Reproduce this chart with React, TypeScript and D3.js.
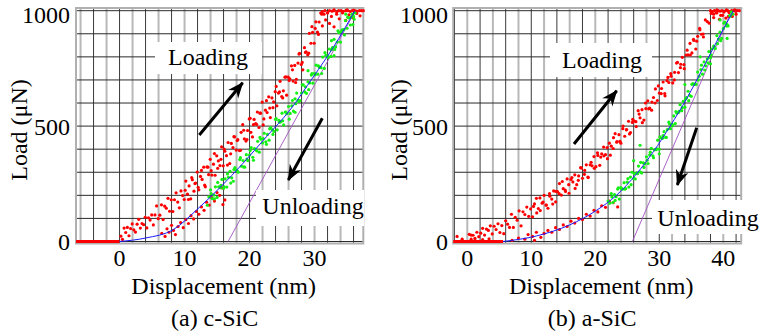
import { useEffect, useRef } from "react";
import * as d3 from "d3";

type Pt = [number, number];

// tick labels
const yTicks = [0, 500, 1000];
const cXTicks = [0, 10, 20, 30];
const aXTicks = [0, 10, 20, 30, 40];

// ---- c-SiC (displacement nm, load uN), stored as h,P,h,P...
const cLoad = [
  0.2, 23, 0.45, 9, 0.7, 58, 0.95, 39, 1.2, 61, 1.45, 25, 1.7, 56, 1.95, 76, 2.2, 50, 2.45, 41, 2.7, 75, 2.95, 96,
  3.2, 58, 3.45, 78, 3.7, 73, 3.95, 105, 4.2, 59, 4.45, 103, 4.7, 93, 4.95, 115, 5.2, 72, 5.45, 115, 5.7, 154,
  5.95, 99, 6.2, 114, 6.45, 159, 6.7, 95, 6.95, 153, 7.2, 144, 7.45, 187, 7.7, 131, 7.95, 181, 8.2, 130, 8.45, 181,
  8.7, 211, 8.95, 171, 9.2, 146, 9.45, 219, 9.7, 199, 9.95, 182, 10.2, 262, 10.45, 205, 10.7, 241, 10.95, 185,
  11.2, 268, 11.45, 218, 11.7, 253, 11.95, 301, 12.2, 224, 12.45, 282, 12.7, 269, 12.95, 322, 13.2, 237, 13.45, 323,
  13.7, 290, 13.95, 356, 14.2, 288, 14.45, 335, 14.7, 287, 14.95, 371, 15.2, 349, 15.45, 329, 15.7, 410, 15.95, 328,
  16.2, 391, 16.45, 372, 16.7, 429, 16.95, 338, 17.2, 425, 17.45, 407, 17.7, 453, 17.95, 396, 18.2, 441, 18.45, 394,
  18.7, 473, 18.95, 506, 19.2, 445, 19.45, 435, 19.7, 481, 19.95, 531, 20.2, 473, 20.45, 453, 20.7, 529, 20.95, 511,
  21.2, 561, 21.45, 494, 21.7, 556, 21.95, 604, 22.2, 531, 22.45, 569, 22.7, 559, 22.95, 627, 23.2, 537, 23.45, 622,
  23.7, 605, 23.95, 649, 24.2, 588, 24.45, 643, 24.7, 694, 24.95, 628, 25.2, 653, 25.45, 712, 25.7, 634, 25.95, 712,
  26.2, 705, 26.45, 761, 26.7, 695, 26.95, 763, 27.2, 703, 27.45, 773, 27.7, 815, 27.95, 767, 28.2, 744, 28.45, 840,
  28.7, 822, 28.95, 809, 29.2, 902, 29.45, 859, 29.7, 906, 29.95, 859, 30.2, 952, 30.45, 907, 30.7, 951, 30.95, 990,
  31.2, 934, 31.45, 985, 31.7, 960, 32.0, 990, 32.3, 945, 32.6, 975, 33.0, 930, 33.4, 985, 33.8, 965, 34.3, 990,
  34.8, 958, 35.3, 982, 35.9, 970, 36.5, 988, 37.0, 978,
  // second sweep
  10.1, 222, 10.6, 182, 11.1, 277, 11.6, 251, 12.1, 235, 12.6, 308, 13.1, 244, 13.6, 322, 14.1, 307, 14.6, 381,
  15.1, 317, 15.6, 356, 16.1, 400, 16.6, 331, 17.1, 380, 17.6, 454, 18.1, 438, 18.6, 395, 19.1, 482, 19.6, 442,
  20.1, 534, 20.6, 506, 21.1, 507, 21.6, 556, 22.1, 505, 22.6, 610, 23.1, 578, 23.6, 580, 24.1, 672, 24.6, 648,
  25.1, 622, 25.6, 713, 26.1, 698, 26.6, 744, 27.1, 689, 27.6, 812, 28.1, 776, 28.6, 819, 29.1, 816, 29.6, 931,
  30.1, 923, 30.6, 897, 31.1, 985,
];
const cUnloadLow = [
  6.5, 35, 7.0, 22, 7.3, 55, 7.6, 40, 8.0, 70, 8.3, 48, 8.6, 30, 9.0, 65, 9.4, 82, 9.8, 60, 10.2, 95, 10.6, 78,
  11.0, 112, 11.4, 98, 11.8, 130, 12.2, 118, 12.6, 150, 13.0, 135, 13.4, 170, 13.8, 158, 14.2, 190, 14.6, 175,
  15.0, 212, 15.4, 200, 15.8, 232, 16.2, 180, 15.9, 160,
];
const cUnload = [
  13.5, 157, 13.75, 193, 14.0, 224, 14.25, 186, 14.5, 201, 14.75, 237, 15.0, 191, 15.25, 237, 15.5, 233, 15.75, 269,
  16.0, 230, 16.25, 271, 16.5, 236, 16.75, 278, 17.0, 304, 17.25, 276, 17.5, 261, 17.75, 320, 18.0, 309, 18.25, 300,
  18.5, 355, 18.75, 326, 19.0, 351, 19.25, 322, 19.5, 376, 19.75, 350, 20.0, 375, 20.25, 407, 20.5, 365, 20.75, 403,
  21.0, 399, 21.25, 434, 21.5, 387, 21.75, 443, 22.0, 427, 22.25, 469, 22.5, 432, 22.75, 464, 23.0, 439, 23.25, 494,
  23.5, 485, 23.75, 477, 24.0, 529, 24.25, 484, 24.5, 525, 24.75, 518, 25.0, 556, 25.25, 505, 25.5, 561, 25.75, 554,
  26.0, 585, 26.25, 555, 26.5, 588, 26.75, 565, 27.0, 618, 27.25, 643, 27.5, 611, 27.75, 611, 28.0, 643, 28.25, 679,
  28.5, 648, 28.75, 642, 29.0, 692, 29.25, 687, 29.5, 721, 29.75, 686, 30.0, 729, 30.25, 764, 30.5, 725, 30.75, 754,
  31.0, 753, 31.25, 799, 31.5, 750, 31.75, 807, 32.0, 803, 32.25, 834, 32.5, 802, 32.75, 840, 33.0, 876, 33.25, 843,
  33.5, 864, 33.75, 905, 34.0, 864, 34.25, 917, 34.5, 918, 34.75, 957, 35.0, 924, 35.25, 969, 35.5, 938, 35.75, 985,
  36.0, 975, 36.25, 990, 34.8, 985, 33.0, 805, 29.0, 740, 27.0, 560, 35.9, 940, 32.6, 870,
  // second sweep
  14.1, 208, 14.6, 185, 15.1, 256, 15.6, 243, 16.1, 237, 16.6, 293, 17.1, 253, 17.6, 312, 18.1, 306, 18.6, 363,
  19.1, 323, 19.6, 357, 20.1, 394, 20.6, 352, 21.1, 393, 21.6, 451, 22.1, 446, 22.6, 421, 23.1, 488, 23.6, 464,
  24.1, 533, 24.6, 517, 25.1, 523, 25.6, 561, 26.1, 530, 26.6, 611, 27.1, 597, 27.6, 607, 28.1, 679, 28.6, 670,
  29.1, 658, 29.6, 727, 30.1, 722, 30.6, 761, 31.1, 728, 31.6, 818, 32.1, 797, 32.6, 831, 33.1, 832, 33.6, 913,
  34.1, 909, 34.6, 895, 35.1, 972, 35.6, 971, 36.1, 963,
];
const cHold = [
  31.2, 996, 31.6, 1000, 32.0, 992, 32.3, 1000, 32.7, 998, 33.0, 1000, 33.4, 994, 33.7, 1000, 34.1, 1000,
  34.4, 996, 34.8, 1000, 35.1, 1000, 35.5, 997, 35.8, 1000, 36.2, 1000, 36.5, 998, 36.9, 1000, 37.2, 1000,
  37.5, 1000, 33.0, 1004, 35.0, 1004, 36.0, 1003,
];
const cFlat: Pt[] = [[-6.7, 0], [0, 0]];
const cFit: Pt[] = [
  [0, 0], [4, 15], [8.3, 52], [11.9, 138], [15.5, 235], [19, 339], [22.6, 454], [26.2, 569], [29.8, 713],
  [32.9, 842], [36.2, 1000],
];
const cTangent: Pt[] = [[16.7, 0], [36.3, 1000]];

// ---- a-SiC
const aLoad = [
  0.3, 31, 0.6, 10, 0.9, 27, 1.2, 5, 1.5, 40, 1.8, 21, 2.1, 36, 2.4, 57, 2.7, 28, 3.0, 54, 3.3, 48, 3.6, 68,
  3.9, 33, 4.2, 66, 4.5, 52, 4.8, 77, 5.1, 39, 5.4, 69, 5.7, 34, 6.0, 90, 6.3, 75, 6.6, 61, 6.9, 118, 7.2, 61,
  7.5, 105, 7.8, 92, 8.1, 133, 8.4, 68, 8.7, 129, 9.0, 117, 9.3, 149, 9.6, 109, 9.9, 141, 10.2, 107, 10.5, 163,
  10.8, 187, 11.1, 143, 11.4, 134, 11.7, 166, 12.0, 200, 12.3, 158, 12.6, 144, 12.9, 196, 13.2, 184, 13.5, 219,
  13.8, 172, 14.1, 216, 14.4, 251, 14.7, 201, 15.0, 229, 15.3, 223, 15.6, 271, 15.9, 209, 16.2, 269, 16.5, 258,
  16.8, 289, 17.1, 246, 17.4, 284, 17.7, 320, 18.0, 274, 18.3, 291, 18.6, 332, 18.9, 277, 19.2, 332, 19.5, 328,
  19.8, 368, 20.1, 324, 20.4, 373, 20.7, 330, 21.0, 380, 21.3, 409, 21.6, 376, 21.9, 359, 22.2, 426, 22.5, 413,
  22.8, 403, 23.1, 467, 23.4, 433, 23.7, 463, 24.0, 426, 24.3, 489, 24.6, 456, 24.9, 485, 25.2, 521, 25.5, 472,
  25.8, 516, 26.1, 522, 26.4, 498, 26.7, 567, 27.0, 536, 27.3, 571, 27.6, 526, 27.9, 576, 28.2, 609, 28.5, 578,
  28.8, 569, 29.1, 624, 29.4, 661, 29.7, 611, 30.0, 643, 30.3, 641, 30.6, 691, 30.9, 631, 31.2, 697, 31.5, 689,
  31.8, 727, 32.1, 687, 32.4, 733, 32.7, 773, 33.0, 732, 33.3, 753, 33.6, 798, 33.9, 749, 34.2, 808, 34.5, 809,
  34.8, 858, 35.1, 817, 35.4, 871, 35.7, 834, 36.0, 889, 36.3, 924, 36.6, 898, 36.9, 886, 37.2, 960, 37.5, 953,
  37.8, 946, 38.1, 988, 38.5, 970, 39.0, 990, 39.4, 962, 39.9, 980, 40.4, 968, 40.9, 992, 41.4, 975, 42.0, 985,
  // second sweep
  10.35, 152, 10.85, 124, 11.35, 189, 11.85, 171, 12.35, 158, 12.85, 207, 13.35, 162, 13.85, 217, 14.35, 207,
  14.85, 260, 15.35, 217, 15.85, 246, 16.35, 277, 16.85, 230, 17.35, 265, 17.85, 318, 18.35, 308, 18.85, 279,
  19.35, 343, 19.85, 317, 20.35, 384, 20.85, 366, 21.35, 371, 21.85, 407, 22.35, 374, 22.85, 450, 23.35, 430,
  23.85, 434, 24.35, 500, 24.85, 484, 25.35, 466, 25.85, 529, 26.35, 519, 26.85, 552, 27.35, 515, 27.85, 600,
  28.35, 575, 28.85, 604, 29.35, 600, 29.85, 674, 30.35, 663, 30.85, 641, 31.35, 711, 31.85, 716, 32.35, 700,
  32.85, 776, 33.35, 768, 33.85, 766, 34.35, 829, 34.85, 808, 35.35, 876, 35.85, 868, 36.35, 917, 36.85, 899,
];
const aUnloadLow = [
  7.0, 5, 8.0, 15, 9.0, 10, 9.5, 30, 10.2, 22, 10.5, 5, 10.8, 40, 11.5, 18, 12.0, 35, 12.6, 48, 13.2, 40,
  13.8, 60, 14.4, 52, 15.0, 72, 15.6, 65, 16.2, 88, 16.8, 80, 17.4, 100, 18.0, 95, 18.6, 118, 19.2, 110,
  19.8, 135, 20.4, 128, 21.0, 155, 21.6, 148, 22.2, 175, 22.8, 168, 23.5, 150,
];
const aUnload = [
  22.0, 175, 22.25, 166, 22.5, 208, 22.75, 169, 23.0, 203, 23.25, 194, 23.5, 227, 23.75, 184, 24.0, 233, 24.25, 227,
  24.5, 255, 24.75, 229, 25.0, 257, 25.25, 236, 25.5, 279, 25.75, 300, 26.0, 272, 26.25, 271, 26.5, 297, 26.75, 327,
  27.0, 302, 27.25, 297, 27.5, 341, 27.75, 336, 28.0, 367, 28.25, 338, 28.5, 375, 28.75, 404, 29.0, 371, 29.25, 397,
  29.5, 398, 29.75, 439, 30.0, 400, 30.25, 449, 30.5, 447, 30.75, 476, 31.0, 451, 31.25, 485, 31.5, 517, 31.75, 489,
  32.0, 508, 32.25, 544, 32.5, 511, 32.75, 556, 33.0, 559, 33.25, 593, 33.5, 567, 33.75, 607, 34.0, 582, 34.25, 623,
  34.5, 651, 34.75, 633, 35.0, 629, 35.25, 684, 35.5, 681, 35.75, 681, 36.0, 734, 36.25, 716, 36.5, 745, 36.75, 725,
  37.0, 778, 37.25, 761, 37.5, 791, 37.75, 823, 38.0, 796, 38.25, 835, 38.5, 847, 38.75, 836, 39.0, 892, 39.25, 877,
  39.5, 907, 39.75, 880, 40.0, 922, 40.25, 951, 40.5, 934, 40.75, 934, 41.0, 979, 41.25, 995, 41.5, 985,
  26.0, 350, 30.0, 380, 34.0, 680, 38.0, 770, 39.5, 960, 27.0, 417, 40.6, 880, 36.4, 800,
  // second sweep
  22.6, 193, 23.1, 178, 23.6, 232, 24.1, 228, 24.6, 227, 25.1, 272, 25.6, 246, 26.1, 294, 26.6, 294, 27.1, 343,
  27.6, 321, 28.1, 352, 28.6, 387, 29.1, 363, 29.6, 401, 30.1, 453, 30.6, 459, 31.1, 451, 31.6, 509, 32.1, 502,
  32.6, 563, 33.1, 564, 33.6, 580, 34.1, 619, 34.6, 610, 35.1, 681, 35.6, 682, 36.1, 700, 36.6, 764, 37.1, 743,
  37.6, 774, 38.1, 809, 38.6, 844, 39.1, 857, 39.6, 870, 40.1, 946, 40.6, 940, 41.1, 976,
];
const aHold = [
  38.0, 1000, 38.3, 996, 38.6, 1000, 38.9, 992, 39.2, 1000, 39.5, 998, 39.8, 1000, 40.1, 994, 40.4, 1000,
  40.7, 1000, 41.0, 996, 41.3, 1000, 41.6, 1000, 41.9, 998, 42.2, 1000, 42.5, 1000, 39.0, 1004, 40.5, 1004,
  41.8, 1004, 38.5, 985, 39.6, 980, 40.8, 975,
];
const aFlatDots = [-1.6, 22, -0.8, 10, 0.6, 28, 1.2, 14, 2.4, 8, 3.4, 12];
const aFlat: Pt[] = [[-2.2, 0], [5.6, 0]];
const aFit: Pt[] = [
  [5.6, 0], [10.8, 24], [16, 72], [20.2, 135], [23.3, 200], [26.5, 295], [29.1, 390], [31.7, 500], [34.3, 620],
  [36.9, 755], [39, 868], [41.6, 1000],
];
const aTangent: Pt[] = [[25.8, 0], [41.3, 1000]];

const pairs = (a: number[]): Pt[] => d3.range(0, a.length, 2).map((i) => [a[i], a[i + 1]] as Pt);

const FONT = "'Liberation Serif', 'Times New Roman', Times, serif";

interface PanelCfg {
  xDomain: [number, number];
  xRange: [number, number];
  xTicks: number[];
  grayRem: number;
  tickRight: number;
  yLabelX: number;
  caption: string;
  load: Pt[];
  unloadLow: Pt[];
  unload: Pt[];
  hold: Pt[];
  extra: Pt[];
  flat: Pt[];
  fit: Pt[];
  tangent: Pt[];
  boxes: { x: number; y: number; w: number; h: number; text: string; tx: number; ty: number }[];
  arrows: [number, number, number, number][];
}

const panels: PanelCfg[] = [
  {
    xDomain: [-6.7, 37.5],
    xRange: [76, 363.3],
    xTicks: cXTicks,
    grayRem: 2,
    tickRight: 70,
    yLabelX: 19,
    caption: "(a) c-SiC",
    load: pairs(cLoad),
    unloadLow: pairs(cUnloadLow),
    unload: pairs(cUnload),
    hold: pairs(cHold),
    extra: [],
    flat: cFlat,
    fit: cFit,
    tangent: cTangent,
    boxes: [
      { x: 155, y: 42, w: 107, h: 32, text: "Loading", tx: 208, ty: 65 },
      { x: 256, y: 190, w: 108, h: 36, text: "Unloading", tx: 313, ty: 213.5 },
    ],
    arrows: [
      [199.3, 135, 242.7, 82.7],
      [322.3, 118.3, 288.3, 180],
    ],
  },
  {
    xDomain: [-2.2, 42.8],
    xRange: [453.2, 741.2],
    xTicks: aXTicks,
    grayRem: 0,
    tickRight: 448,
    yLabelX: 399,
    caption: "(b) a-SiC",
    load: pairs(aLoad),
    unloadLow: pairs(aUnloadLow),
    unload: pairs(aUnload),
    hold: pairs(aHold),
    extra: pairs(aFlatDots),
    flat: aFlat,
    fit: aFit,
    tangent: aTangent,
    boxes: [
      { x: 550, y: 43, w: 102, h: 34, text: "Loading", tx: 602, ty: 68.3 },
      { x: 652, y: 200, w: 110, h: 34, text: "Unloading", tx: 708, ty: 226 },
    ],
    arrows: [
      [574, 144, 616.7, 90.7],
      [696.7, 127.7, 677.3, 185],
    ],
  },
];

const App = () => {
  const svgRef = useRef<SVGSVGElement>(null);

  useEffect(() => {
    if (!svgRef.current) return;
    document.body.style.margin = "0";

    const svg = d3.select(svgRef.current);
    svg.selectAll("*").remove();

    svg
      .append("defs")
      .append("marker")
      .attr("id", "ah")
      .attr("markerUnits", "userSpaceOnUse")
      .attr("viewBox", "-16 -8 18 16")
      .attr("markerWidth", 18)
      .attr("markerHeight", 16)
      .attr("orient", "auto")
      .append("path")
      .attr("d", "M1,0 L-15,-6.5 L-10,0 L-15,6.5 Z")
      .attr("fill", "#000");

    const top = 8;
    const bottom = 243.5;
    const y = d3.scaleLinear().domain([0, 1000]).range([241.5, 10.7]);

    panels.forEach((p) => {
      const x = d3.scaleLinear().domain(p.xDomain).range(p.xRange);
      const g = svg.append("g").style("font-family", FONT);
      const [x0, x1] = p.xRange;

      // vertical grid, every 2 nm, alternating grey / black
      const vLines = d3.range(Math.ceil(p.xDomain[0] / 2) * 2, p.xDomain[1], 2);
      const isGray = (d: number) => ((d % 4) + 4) % 4 === p.grayRem;
      g.selectAll(".vg")
        .data(vLines)
        .enter()
        .append("line")
        .attr("x1", (d) => x(d))
        .attr("x2", (d) => x(d))
        .attr("y1", top)
        .attr("y2", bottom)
        .attr("stroke", (d) => (isGray(d) ? "#b8b8b8" : "#3a3a3a"))
        .attr("stroke-width", (d) => (isGray(d) ? 2 : 1));

      // horizontal grid every 100
      g.selectAll(".hg")
        .data(d3.range(0, 1001, 100))
        .enter()
        .append("line")
        .attr("x1", x0)
        .attr("x2", x1)
        .attr("y1", (d) => y(d))
        .attr("y2", (d) => y(d))
        .attr("stroke", "#2a2a2a")
        .attr("stroke-width", 1);

      g.append("rect")
        .attr("x", x0)
        .attr("y", top)
        .attr("width", x1 - x0)
        .attr("height", bottom - top)
        .attr("fill", "none")
        .attr("stroke", "#b0b0b0")
        .attr("stroke-width", 2);

      const line = d3
        .line<Pt>()
        .x((d) => x(d[0]))
        .y((d) => y(d[1]));

      g.append("path")
        .datum(p.tangent)
        .attr("fill", "none")
        .attr("stroke", "#a050c0")
        .attr("stroke-width", 0.9)
        .attr("d", line);

      g.append("path")
        .datum(p.flat)
        .attr("fill", "none")
        .attr("stroke", "#ff0000")
        .attr("stroke-width", 3)
        .attr("d", line);

      const dots = (pts: Pt[], color: string) =>
        g
          .append("g")
          .selectAll("circle")
          .data(pts)
          .enter()
          .append("circle")
          .attr("cx", (d) => x(d[0]))
          .attr("cy", (d) => y(d[1]))
          .attr("r", 1.6)
          .attr("fill", color);

      dots(p.load, "#ff0000");
      dots(p.unloadLow, "#ff0000");
      dots(p.hold, "#ff0000");
      dots(p.extra, "#ff0000");
      dots(p.unload, "#14f014");

      g.append("path")
        .datum(p.fit)
        .attr("fill", "none")
        .attr("stroke", "#1a1aff")
        .attr("stroke-width", 1)
        .attr("d", line.curve(d3.curveMonotoneX));

      // label boxes
      p.boxes.forEach((b) => {
        g.append("rect").attr("x", b.x).attr("y", b.y).attr("width", b.w).attr("height", b.h).attr("fill", "#fff");
        g.append("text")
          .attr("x", b.tx)
          .attr("y", b.ty)
          .attr("text-anchor", "middle")
          .attr("font-size", 24)
          .attr("fill", "#000")
          .text(b.text);
      });

      p.arrows.forEach(([ax, ay, bx, by]) => {
        g.append("line")
          .attr("x1", ax)
          .attr("y1", ay)
          .attr("x2", bx)
          .attr("y2", by)
          .attr("stroke", "#000")
          .attr("stroke-width", 3)
          .attr("marker-end", "url(#ah)");
      });

      // tick labels
      g.selectAll(".xt")
        .data(p.xTicks)
        .enter()
        .append("text")
        .attr("x", (d) => x(d))
        .attr("y", 265.5)
        .attr("text-anchor", "middle")
        .attr("font-size", 24)
        .text((d) => d);

      g.selectAll(".yt")
        .data(yTicks)
        .enter()
        .append("text")
        .attr("x", p.tickRight)
        .attr("y", (d) => Math.max(y(d) + 8.5, 23))
        .attr("text-anchor", "end")
        .attr("font-size", 24)
        .text((d) => d);

      g.append("text")
        .attr("x", (x0 + x1) / 2 + 4)
        .attr("y", 294)
        .attr("text-anchor", "middle")
        .attr("font-size", 24)
        .text("Displacement (nm)");

      g.append("text")
        .attr("transform", `translate(${p.yLabelX + 8}, 130) rotate(-90)`)
        .attr("text-anchor", "middle")
        .attr("font-size", 24)
        .text("Load (μN)");

      g.append("text")
        .attr("x", (x0 + x1) / 2 - 5)
        .attr("y", 326)
        .attr("text-anchor", "middle")
        .attr("font-size", 24)
        .text(p.caption);
    });
  }, []);

  return <svg ref={svgRef} width={762} height={332} style={{ display: "block", background: "#fff" }} />;
};

export default App;
